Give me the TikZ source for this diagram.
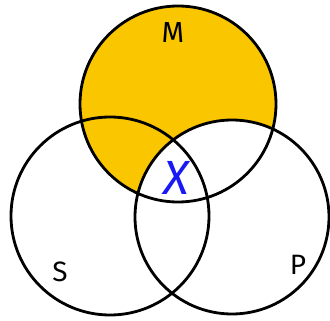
\documentclass[tikz,border=0pt]{standalone}
\usepackage{xcolor}
\usepackage{fontspec}
\setmainfont{Fira Sans}
\definecolor{venngold}{RGB}{250,198,0}
\definecolor{vennblue}{RGB}{25,25,245}

\begin{document}
\begin{tikzpicture}[x=1pt,y=-1pt,line width=2.8pt]
\useasboundingbox (0,0) rectangle (330,321);
\coordinate (cM) at (178,104);
\coordinate (cS) at (110,216);
\coordinate (cP) at (232,217);
% M without P
\begin{scope}
\clip (cM) circle (98pt);
\fill[venngold,even odd rule] (cM) circle (98pt) (cP) circle (97pt);
\end{scope}
\draw (cM) circle (98pt);
\draw (cS) circle (99pt);
\draw (cP) circle (97pt);
\node (labM) at (173,33) {\fontsize{29}{29}\selectfont M};
\node (labS) at (60,272) {\fontsize{28}{28}\selectfont S};
\node (labP) at (298,265) {\fontsize{28}{28}\selectfont P};
\node[vennblue] (labX) at (176,178) {\fontsize{48}{48}\selectfont\itshape X};
\end{tikzpicture}
\end{document}
